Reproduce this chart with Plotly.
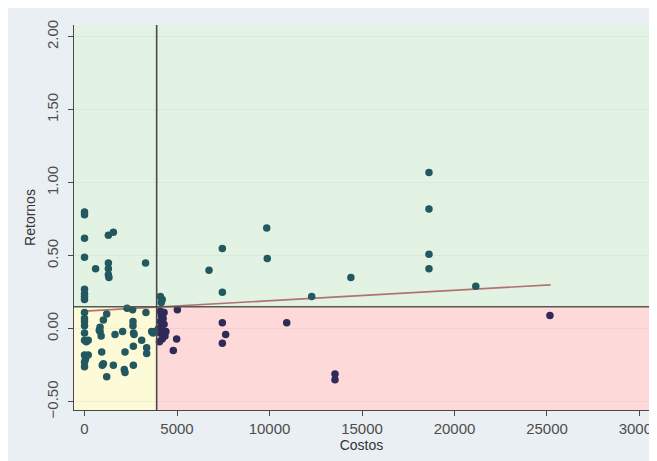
import plotly.graph_objects as go

# ---- data ----
costos = [
    0, 0, 0, 0, 0, 0, 0, 0, 600, 1290, 1290, 1290, 1320, 1290, 1560, 3300,
    4100, 4200, 4150, 6730, 7450, 7450, 9850, 9880, 12280, 14400,
    18620, 18620, 18620, 18620, 21150,
    4100, 4300, 4150, 4250, 4100, 4300, 4150, 4200, 4100, 4350, 4200, 4050, 4400, 4000,
    5020, 4980, 4800, 7450, 7630, 7450, 10930, 13540, 13540, 25160,
    0, 0, 0, 0, 0, 0, 100, 0, 50, 0, 0, 200, 200,
    1200, 1020, 840, 840, 900, 800, 1650, 2060, 2300, 2600, 3320,
    2620, 2620, 2650, 2680, 3630, 3800, 3700, 3090, 3360, 3360,
    2640, 2190, 930, 1020, 1560, 2640, 2150, 2190, 1200, 960,
]
retornos = [
    0.80, 0.78, 0.62, 0.49, 0.27, 0.24, 0.20, 0.22, 0.41, 0.45, 0.41, 0.37, 0.35, 0.64, 0.66, 0.45,
    0.22, 0.20, 0.18, 0.40, 0.55, 0.25, 0.69, 0.48, 0.22, 0.35,
    1.07, 0.82, 0.51, 0.41, 0.29,
    0.12, 0.11, 0.09, 0.07, 0.05, 0.03, 0.01, -0.01, -0.03, -0.05, -0.07, -0.09, -0.02, 0.00,
    0.13, -0.07, -0.15, 0.04, -0.04, -0.10, 0.04, -0.31, -0.35, 0.09,
    0.11, 0.07, 0.05, 0.02, -0.03, -0.08, -0.09, -0.18, -0.21, -0.26, -0.23, -0.08, -0.18,
    0.10, 0.06, 0.01, -0.02, -0.05, -0.01, -0.04, -0.02, 0.14, 0.13, 0.11,
    0.05, 0.02, -0.03, -0.04, -0.02, -0.02, -0.03, -0.08, -0.13, -0.17,
    -0.12, -0.16, -0.16, -0.24, -0.25, -0.25, -0.28, -0.30, -0.33, -0.25,
]
umbral_costos = 3900
umbral_retornos = 0.15
tendencia_x = [0, 25200]
tendencia_y = [0.12, 0.30]
x_ticks = [0, 5000, 10000, 15000, 20000, 25000, 30000]
y_ticks = [-0.5, 0.0, 0.5, 1.0, 1.5, 2.0]

x_min, x_max = -568, 30514
y_min, y_max = -0.557, 2.08

teal = "#22585f"
purple = "#2f2a58"
colores = [purple if (x > umbral_costos and y < umbral_retornos) else teal
           for x, y in zip(costos, retornos)]

fig = go.Figure()
fig.add_trace(go.Scatter(
    x=tendencia_x, y=tendencia_y, mode="lines",
    line=dict(color="#b27272", width=1.6), hoverinfo="skip", showlegend=False))
fig.add_trace(go.Scatter(
    x=costos, y=retornos, mode="markers",
    marker=dict(color=colores, size=7.5, line=dict(width=0)),
    showlegend=False))

shapes = [
    # quadrant backgrounds
    dict(type="rect", xref="x", yref="y", x0=x_min, x1=x_max, y0=umbral_retornos, y1=y_max,
         fillcolor="#e3f3e3", line=dict(width=0), layer="below"),
    dict(type="rect", xref="x", yref="y", x0=x_min, x1=umbral_costos, y0=y_min, y1=umbral_retornos,
         fillcolor="#fdfad8", line=dict(width=0), layer="below"),
    dict(type="rect", xref="x", yref="y", x0=umbral_costos, x1=x_max, y0=y_min, y1=umbral_retornos,
         fillcolor="#fed9d9", line=dict(width=0), layer="below"),
    # threshold lines
    dict(type="line", xref="x", yref="y", x0=x_min, x1=x_max, y0=umbral_retornos, y1=umbral_retornos,
         line=dict(color="#55594f", width=1.6), layer="above"),
    dict(type="line", xref="x", yref="y", x0=umbral_costos, x1=umbral_costos, y0=y_min, y1=y_max,
         line=dict(color="#4a4a4a", width=1.6), layer="above"),
]

fig.update_layout(
    width=647, height=453,
    margin=dict(l=66, r=6, t=17, b=51, autoexpand=False),
    paper_bgcolor="#eaeff3",
    plot_bgcolor="#e3f3e3",
    shapes=shapes,
    font=dict(family="Liberation Sans, Arial, sans-serif", color="#444"),
    xaxis=dict(
        range=[x_min, x_max], tickvals=x_ticks, ticktext=[str(v) for v in x_ticks],
        showgrid=False, zeroline=False, automargin=False,
        ticklabeloverflow="allow",
        showline=True, linecolor="#4a4a4a", linewidth=1.3,
        ticks="outside", ticklen=5, tickcolor="#4a4a4a",
        tickfont=dict(size=15, color="#4d4d4d"),
        title=dict(text="Costos", font=dict(size=14, color="#333"), standoff=0),
    ),
    yaxis=dict(
        range=[y_min, y_max], tickvals=y_ticks, tickformat=".2f",
        tickangle=-90, automargin=False, ticklabelstandoff=4,
        showgrid=True, gridcolor="rgba(0,0,0,0.045)", gridwidth=1.2,
        zeroline=False,
        showline=True, linecolor="#4a4a4a", linewidth=1.3,
        ticks="outside", ticklen=5, tickcolor="#4a4a4a",
        tickfont=dict(size=15, color="#4d4d4d"),
        title=dict(text="Retornos", font=dict(size=14, color="#333"), standoff=4),
    ),
)

fig.write_html("out.html")
